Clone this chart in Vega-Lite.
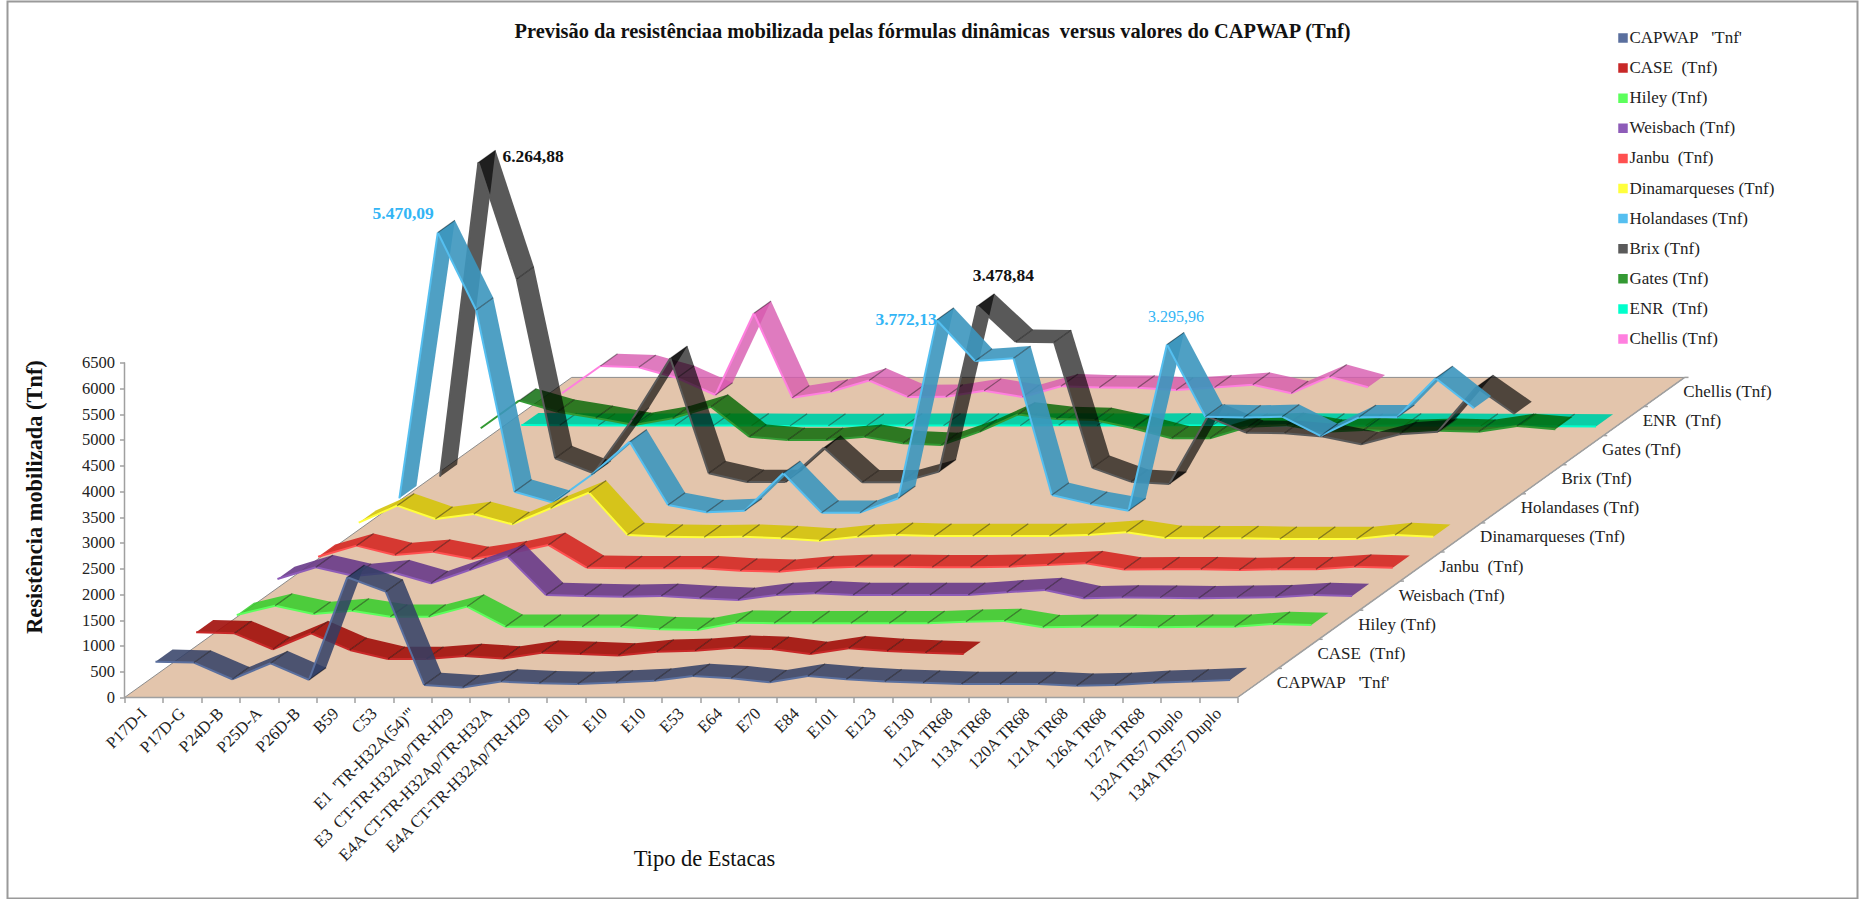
{
"$schema":"https://vega.github.io/schema/vega-lite/v6.json",
"width":1850,"height":897,"autosize":"none",
"padding":{"left":7.5,"top":1.5,"right":1.5,"bottom":0.5},
"background":"white",
"config":{"view":{"stroke":"#9a9a9a","strokeWidth":2},"font":"Liberation Serif"},
"title":{"text":"Previsão da resistênciaa mobilizada pelas fórmulas dinâmicas\u00a0\u00a0versus valores do CAPWAP (Tnf)","font":"Liberation Serif","fontSize":20.4,"fontWeight":"bold","color":"#111","anchor":"middle","offset":-41},
"data":{"values":[
{"serie":"Chellis (Tnf)","n":0,"valor":93},{"serie":"Chellis (Tnf)","n":1,"valor":623},{"serie":"Chellis (Tnf)","n":2,"valor":597},{"serie":"Chellis (Tnf)","n":3,"valor":390},{"serie":"Chellis (Tnf)","n":4,"valor":60},{"serie":"Chellis (Tnf)","n":5,"valor":1645},{"serie":"Chellis (Tnf)","n":6,"valor":8},{"serie":"Chellis (Tnf)","n":7,"valor":124},{"serie":"Chellis (Tnf)","n":8,"valor":340},{"serie":"Chellis (Tnf)","n":9,"valor":22},{"serie":"Chellis (Tnf)","n":10,"valor":27},{"serie":"Chellis (Tnf)","n":11,"valor":140},{"serie":"Chellis (Tnf)","n":12,"valor":22},{"serie":"Chellis (Tnf)","n":13,"valor":228},{"serie":"Chellis (Tnf)","n":14,"valor":205},{"serie":"Chellis (Tnf)","n":15,"valor":200},{"serie":"Chellis (Tnf)","n":16,"valor":157},{"serie":"Chellis (Tnf)","n":17,"valor":205},{"serie":"Chellis (Tnf)","n":18,"valor":260},{"serie":"Chellis (Tnf)","n":19,"valor":93},{"serie":"Chellis (Tnf)","n":20,"valor":415},{"serie":"Chellis (Tnf)","n":21,"valor":209},
{"serie":"ENR  (Tnf)","n":0,"valor":40},{"serie":"ENR  (Tnf)","n":1,"valor":35},{"serie":"ENR  (Tnf)","n":2,"valor":30},{"serie":"ENR  (Tnf)","n":3,"valor":30},{"serie":"ENR  (Tnf)","n":4,"valor":30},{"serie":"ENR  (Tnf)","n":5,"valor":30},{"serie":"ENR  (Tnf)","n":6,"valor":30},{"serie":"ENR  (Tnf)","n":7,"valor":25},{"serie":"ENR  (Tnf)","n":8,"valor":25},{"serie":"ENR  (Tnf)","n":9,"valor":25},{"serie":"ENR  (Tnf)","n":10,"valor":30},{"serie":"ENR  (Tnf)","n":11,"valor":30},{"serie":"ENR  (Tnf)","n":12,"valor":30},{"serie":"ENR  (Tnf)","n":13,"valor":30},{"serie":"ENR  (Tnf)","n":14,"valor":35},{"serie":"ENR  (Tnf)","n":15,"valor":30},{"serie":"ENR  (Tnf)","n":16,"valor":30},{"serie":"ENR  (Tnf)","n":17,"valor":35},{"serie":"ENR  (Tnf)","n":18,"valor":30},{"serie":"ENR  (Tnf)","n":19,"valor":30},{"serie":"ENR  (Tnf)","n":20,"valor":35},{"serie":"ENR  (Tnf)","n":21,"valor":30},{"serie":"ENR  (Tnf)","n":22,"valor":25},{"serie":"ENR  (Tnf)","n":23,"valor":30},{"serie":"ENR  (Tnf)","n":24,"valor":30},{"serie":"ENR  (Tnf)","n":25,"valor":25},{"serie":"ENR  (Tnf)","n":26,"valor":25},{"serie":"ENR  (Tnf)","n":27,"valor":20},{"serie":"ENR  (Tnf)","n":28,"valor":15},
{"serie":"Gates (Tnf)","n":0,"valor":543},{"serie":"Gates (Tnf)","n":1,"valor":1079},{"serie":"Gates (Tnf)","n":2,"valor":865},{"serie":"Gates (Tnf)","n":3,"valor":743},{"serie":"Gates (Tnf)","n":4,"valor":607},{"serie":"Gates (Tnf)","n":5,"valor":737},{"serie":"Gates (Tnf)","n":6,"valor":962},{"serie":"Gates (Tnf)","n":7,"valor":380},{"serie":"Gates (Tnf)","n":8,"valor":316},{"serie":"Gates (Tnf)","n":9,"valor":316},{"serie":"Gates (Tnf)","n":10,"valor":380},{"serie":"Gates (Tnf)","n":11,"valor":252},{"serie":"Gates (Tnf)","n":12,"valor":219},{"serie":"Gates (Tnf)","n":13,"valor":477},{"serie":"Gates (Tnf)","n":14,"valor":810},{"serie":"Gates (Tnf)","n":15,"valor":725},{"serie":"Gates (Tnf)","n":16,"valor":704},{"serie":"Gates (Tnf)","n":17,"valor":543},{"serie":"Gates (Tnf)","n":18,"valor":349},{"serie":"Gates (Tnf)","n":19,"valor":349},{"serie":"Gates (Tnf)","n":20,"valor":574},{"serie":"Gates (Tnf)","n":21,"valor":607},{"serie":"Gates (Tnf)","n":22,"valor":477},{"serie":"Gates (Tnf)","n":23,"valor":510},{"serie":"Gates (Tnf)","n":24,"valor":477},{"serie":"Gates (Tnf)","n":25,"valor":497},{"serie":"Gates (Tnf)","n":26,"valor":477},{"serie":"Gates (Tnf)","n":27,"valor":588},{"serie":"Gates (Tnf)","n":28,"valor":524},
{"serie":"Brix (Tnf)","n":0,"valor":169},{"serie":"Brix (Tnf)","n":1,"valor":6264.88},{"serie":"Brix (Tnf)","n":2,"valor":4004},{"serie":"Brix (Tnf)","n":3,"valor":525},{"serie":"Brix (Tnf)","n":4,"valor":234},{"serie":"Brix (Tnf)","n":5,"valor":1268},{"serie":"Brix (Tnf)","n":6,"valor":2466},{"serie":"Brix (Tnf)","n":7,"valor":234},{"serie":"Brix (Tnf)","n":8,"valor":65},{"serie":"Brix (Tnf)","n":9,"valor":65},{"serie":"Brix (Tnf)","n":10,"valor":731},{"serie":"Brix (Tnf)","n":11,"valor":60},{"serie":"Brix (Tnf)","n":12,"valor":60},{"serie":"Brix (Tnf)","n":13,"valor":266},{"serie":"Brix (Tnf)","n":14,"valor":3478.84},{"serie":"Brix (Tnf)","n":15,"valor":2788},{"serie":"Brix (Tnf)","n":16,"valor":2776},{"serie":"Brix (Tnf)","n":17,"valor":340},{"serie":"Brix (Tnf)","n":18,"valor":72},{"serie":"Brix (Tnf)","n":19,"valor":27},{"serie":"Brix (Tnf)","n":20,"valor":1333},{"serie":"Brix (Tnf)","n":21,"valor":1022},{"serie":"Brix (Tnf)","n":22,"valor":1010},{"serie":"Brix (Tnf)","n":23,"valor":950},{"serie":"Brix (Tnf)","n":24,"valor":797},{"serie":"Brix (Tnf)","n":25,"valor":991},{"serie":"Brix (Tnf)","n":26,"valor":1042},{"serie":"Brix (Tnf)","n":27,"valor":1903},{"serie":"Brix (Tnf)","n":28,"valor":1385},
{"serie":"Holandases (Tnf)","n":0,"valor":314},{"serie":"Holandases (Tnf)","n":1,"valor":5470.09},{"serie":"Holandases (Tnf)","n":2,"valor":3967},{"serie":"Holandases (Tnf)","n":3,"valor":442},{"serie":"Holandases (Tnf)","n":4,"valor":229},{"serie":"Holandases (Tnf)","n":5,"valor":766},{"serie":"Holandases (Tnf)","n":6,"valor":1412},{"serie":"Holandases (Tnf)","n":7,"valor":184},{"serie":"Holandases (Tnf)","n":8,"valor":43},{"serie":"Holandases (Tnf)","n":9,"valor":74},{"serie":"Holandases (Tnf)","n":10,"valor":799},{"serie":"Holandases (Tnf)","n":11,"valor":35},{"serie":"Holandases (Tnf)","n":12,"valor":35},{"serie":"Holandases (Tnf)","n":13,"valor":314},{"serie":"Holandases (Tnf)","n":14,"valor":3772.13},{"serie":"Holandases (Tnf)","n":15,"valor":2978},{"serie":"Holandases (Tnf)","n":16,"valor":3030},{"serie":"Holandases (Tnf)","n":17,"valor":378},{"serie":"Holandases (Tnf)","n":18,"valor":205},{"serie":"Holandases (Tnf)","n":19,"valor":74},{"serie":"Holandases (Tnf)","n":20,"valor":3295.96},{"serie":"Holandases (Tnf)","n":21,"valor":1897},{"serie":"Holandases (Tnf)","n":22,"valor":1880},{"serie":"Holandases (Tnf)","n":23,"valor":1897},{"serie":"Holandases (Tnf)","n":24,"valor":1523},{"serie":"Holandases (Tnf)","n":25,"valor":1885},{"serie":"Holandases (Tnf)","n":26,"valor":1885},{"serie":"Holandases (Tnf)","n":27,"valor":2642},{"serie":"Holandases (Tnf)","n":28,"valor":2060},
{"serie":"Dinamarqueses (Tnf)","n":0,"valor":405},{"serie":"Dinamarqueses (Tnf)","n":1,"valor":735},{"serie":"Dinamarqueses (Tnf)","n":2,"valor":477},{"serie":"Dinamarqueses (Tnf)","n":3,"valor":574},{"serie":"Dinamarqueses (Tnf)","n":4,"valor":374},{"serie":"Dinamarqueses (Tnf)","n":5,"valor":685},{"serie":"Dinamarqueses (Tnf)","n":6,"valor":987},{"serie":"Dinamarqueses (Tnf)","n":7,"valor":167},{"serie":"Dinamarqueses (Tnf)","n":8,"valor":134},{"serie":"Dinamarqueses (Tnf)","n":9,"valor":122},{"serie":"Dinamarqueses (Tnf)","n":10,"valor":134},{"serie":"Dinamarqueses (Tnf)","n":11,"valor":103},{"serie":"Dinamarqueses (Tnf)","n":12,"valor":56},{"serie":"Dinamarqueses (Tnf)","n":13,"valor":134},{"serie":"Dinamarqueses (Tnf)","n":14,"valor":167},{"serie":"Dinamarqueses (Tnf)","n":15,"valor":147},{"serie":"Dinamarqueses (Tnf)","n":16,"valor":147},{"serie":"Dinamarqueses (Tnf)","n":17,"valor":147},{"serie":"Dinamarqueses (Tnf)","n":18,"valor":147},{"serie":"Dinamarqueses (Tnf)","n":19,"valor":167},{"serie":"Dinamarqueses (Tnf)","n":20,"valor":220},{"serie":"Dinamarqueses (Tnf)","n":21,"valor":110},{"serie":"Dinamarqueses (Tnf)","n":22,"valor":103},{"serie":"Dinamarqueses (Tnf)","n":23,"valor":103},{"serie":"Dinamarqueses (Tnf)","n":24,"valor":89},{"serie":"Dinamarqueses (Tnf)","n":25,"valor":89},{"serie":"Dinamarqueses (Tnf)","n":26,"valor":89},{"serie":"Dinamarqueses (Tnf)","n":27,"valor":167},{"serie":"Dinamarqueses (Tnf)","n":28,"valor":134},
{"serie":"Janbu  (Tnf)","n":0,"valor":310},{"serie":"Janbu  (Tnf)","n":1,"valor":524},{"serie":"Janbu  (Tnf)","n":2,"valor":343},{"serie":"Janbu  (Tnf)","n":3,"valor":407},{"serie":"Janbu  (Tnf)","n":4,"valor":266},{"serie":"Janbu  (Tnf)","n":5,"valor":376},{"serie":"Janbu  (Tnf)","n":6,"valor":537},{"serie":"Janbu  (Tnf)","n":7,"valor":97},{"serie":"Janbu  (Tnf)","n":8,"valor":85},{"serie":"Janbu  (Tnf)","n":9,"valor":85},{"serie":"Janbu  (Tnf)","n":10,"valor":85},{"serie":"Janbu  (Tnf)","n":11,"valor":39},{"serie":"Janbu  (Tnf)","n":12,"valor":19},{"serie":"Janbu  (Tnf)","n":13,"valor":85},{"serie":"Janbu  (Tnf)","n":14,"valor":116},{"serie":"Janbu  (Tnf)","n":15,"valor":116},{"serie":"Janbu  (Tnf)","n":16,"valor":104},{"serie":"Janbu  (Tnf)","n":17,"valor":104},{"serie":"Janbu  (Tnf)","n":18,"valor":116},{"serie":"Janbu  (Tnf)","n":19,"valor":149},{"serie":"Janbu  (Tnf)","n":20,"valor":182},{"serie":"Janbu  (Tnf)","n":21,"valor":60},{"serie":"Janbu  (Tnf)","n":22,"valor":66},{"serie":"Janbu  (Tnf)","n":23,"valor":66},{"serie":"Janbu  (Tnf)","n":24,"valor":52},{"serie":"Janbu  (Tnf)","n":25,"valor":66},{"serie":"Janbu  (Tnf)","n":26,"valor":66},{"serie":"Janbu  (Tnf)","n":27,"valor":116},{"serie":"Janbu  (Tnf)","n":28,"valor":97},
{"serie":"Weisbach (Tnf)","n":0,"valor":442},{"serie":"Weisbach (Tnf)","n":1,"valor":669},{"serie":"Weisbach (Tnf)","n":2,"valor":500},{"serie":"Weisbach (Tnf)","n":3,"valor":572},{"serie":"Weisbach (Tnf)","n":4,"valor":359},{"serie":"Weisbach (Tnf)","n":5,"valor":617},{"serie":"Weisbach (Tnf)","n":6,"valor":875},{"serie":"Weisbach (Tnf)","n":7,"valor":132},{"serie":"Weisbach (Tnf)","n":8,"valor":112},{"serie":"Weisbach (Tnf)","n":9,"valor":99},{"serie":"Weisbach (Tnf)","n":10,"valor":112},{"serie":"Weisbach (Tnf)","n":11,"valor":68},{"serie":"Weisbach (Tnf)","n":12,"valor":35},{"serie":"Weisbach (Tnf)","n":13,"valor":132},{"serie":"Weisbach (Tnf)","n":14,"valor":165},{"serie":"Weisbach (Tnf)","n":15,"valor":132},{"serie":"Weisbach (Tnf)","n":16,"valor":132},{"serie":"Weisbach (Tnf)","n":17,"valor":132},{"serie":"Weisbach (Tnf)","n":18,"valor":132},{"serie":"Weisbach (Tnf)","n":19,"valor":184},{"serie":"Weisbach (Tnf)","n":20,"valor":229},{"serie":"Weisbach (Tnf)","n":21,"valor":68},{"serie":"Weisbach (Tnf)","n":22,"valor":85},{"serie":"Weisbach (Tnf)","n":23,"valor":80},{"serie":"Weisbach (Tnf)","n":24,"valor":68},{"serie":"Weisbach (Tnf)","n":25,"valor":80},{"serie":"Weisbach (Tnf)","n":26,"valor":86},{"serie":"Weisbach (Tnf)","n":27,"valor":132},{"serie":"Weisbach (Tnf)","n":28,"valor":112},
{"serie":"Hiley (Tnf)","n":0,"valor":308},{"serie":"Hiley (Tnf)","n":1,"valor":489},{"serie":"Hiley (Tnf)","n":2,"valor":328},{"serie":"Hiley (Tnf)","n":3,"valor":392},{"serie":"Hiley (Tnf)","n":4,"valor":275},{"serie":"Hiley (Tnf)","n":5,"valor":275},{"serie":"Hiley (Tnf)","n":6,"valor":470},{"serie":"Hiley (Tnf)","n":7,"valor":81},{"serie":"Hiley (Tnf)","n":8,"valor":81},{"serie":"Hiley (Tnf)","n":9,"valor":81},{"serie":"Hiley (Tnf)","n":10,"valor":81},{"serie":"Hiley (Tnf)","n":11,"valor":31},{"serie":"Hiley (Tnf)","n":12,"valor":17},{"serie":"Hiley (Tnf)","n":13,"valor":159},{"serie":"Hiley (Tnf)","n":14,"valor":147},{"serie":"Hiley (Tnf)","n":15,"valor":147},{"serie":"Hiley (Tnf)","n":16,"valor":147},{"serie":"Hiley (Tnf)","n":17,"valor":147},{"serie":"Hiley (Tnf)","n":18,"valor":147},{"serie":"Hiley (Tnf)","n":19,"valor":178},{"serie":"Hiley (Tnf)","n":20,"valor":192},{"serie":"Hiley (Tnf)","n":21,"valor":70},{"serie":"Hiley (Tnf)","n":22,"valor":81},{"serie":"Hiley (Tnf)","n":23,"valor":81},{"serie":"Hiley (Tnf)","n":24,"valor":70},{"serie":"Hiley (Tnf)","n":25,"valor":81},{"serie":"Hiley (Tnf)","n":26,"valor":81},{"serie":"Hiley (Tnf)","n":27,"valor":134},{"serie":"Hiley (Tnf)","n":28,"valor":114},
{"serie":"CASE  (Tnf)","n":0,"valor":537},{"serie":"CASE  (Tnf)","n":1,"valor":518},{"serie":"CASE  (Tnf)","n":2,"valor":207},{"serie":"CASE  (Tnf)","n":3,"valor":518},{"serie":"CASE  (Tnf)","n":4,"valor":194},{"serie":"CASE  (Tnf)","n":5,"valor":20},{"serie":"CASE  (Tnf)","n":6,"valor":20},{"serie":"CASE  (Tnf)","n":7,"valor":78},{"serie":"CASE  (Tnf)","n":8,"valor":30},{"serie":"CASE  (Tnf)","n":9,"valor":142},{"serie":"CASE  (Tnf)","n":10,"valor":116},{"serie":"CASE  (Tnf)","n":11,"valor":88},{"serie":"CASE  (Tnf)","n":12,"valor":161},{"serie":"CASE  (Tnf)","n":13,"valor":180},{"serie":"CASE  (Tnf)","n":14,"valor":239},{"serie":"CASE  (Tnf)","n":15,"valor":213},{"serie":"CASE  (Tnf)","n":16,"valor":116},{"serie":"CASE  (Tnf)","n":17,"valor":227},{"serie":"CASE  (Tnf)","n":18,"valor":175},{"serie":"CASE  (Tnf)","n":19,"valor":142},{"serie":"CASE  (Tnf)","n":20,"valor":116},
{"serie":"CAPWAP   'Tnf'","n":0,"valor":532},{"serie":"CAPWAP   'Tnf'","n":1,"valor":513},{"serie":"CAPWAP   'Tnf'","n":2,"valor":190},{"serie":"CAPWAP   'Tnf'","n":3,"valor":500},{"serie":"CAPWAP   'Tnf'","n":4,"valor":177},{"serie":"CAPWAP   'Tnf'","n":5,"valor":2170},{"serie":"CAPWAP   'Tnf'","n":6,"valor":1890},{"serie":"CAPWAP   'Tnf'","n":7,"valor":80},{"serie":"CAPWAP   'Tnf'","n":8,"valor":30},{"serie":"CAPWAP   'Tnf'","n":9,"valor":145},{"serie":"CAPWAP   'Tnf'","n":10,"valor":112},{"serie":"CAPWAP   'Tnf'","n":11,"valor":100},{"serie":"CAPWAP   'Tnf'","n":12,"valor":128},{"serie":"CAPWAP   'Tnf'","n":13,"valor":163},{"serie":"CAPWAP   'Tnf'","n":14,"valor":254},{"serie":"CAPWAP   'Tnf'","n":15,"valor":208},{"serie":"CAPWAP   'Tnf'","n":16,"valor":132},{"serie":"CAPWAP   'Tnf'","n":17,"valor":254},{"serie":"CAPWAP   'Tnf'","n":18,"valor":190},{"serie":"CAPWAP   'Tnf'","n":19,"valor":145},{"serie":"CAPWAP   'Tnf'","n":20,"valor":124},{"serie":"CAPWAP   'Tnf'","n":21,"valor":99},{"serie":"CAPWAP   'Tnf'","n":22,"valor":99},{"serie":"CAPWAP   'Tnf'","n":23,"valor":99},{"serie":"CAPWAP   'Tnf'","n":24,"valor":66},{"serie":"CAPWAP   'Tnf'","n":25,"valor":80},{"serie":"CAPWAP   'Tnf'","n":26,"valor":124},{"serie":"CAPWAP   'Tnf'","n":27,"valor":145},{"serie":"CAPWAP   'Tnf'","n":28,"valor":176}
]},
"transform":[
{"calculate":"indexof(['CAPWAP   \\'Tnf\\'','CASE  (Tnf)','Hiley (Tnf)','Weisbach (Tnf)','Janbu  (Tnf)','Dinamarqueses (Tnf)','Holandases (Tnf)','Brix (Tnf)','Gates (Tnf)','ENR  (Tnf)','Chellis (Tnf)'],datum.serie)","as":"faixa"},
{"window":[{"op":"lead","field":"valor","as":"prox"}],"groupby":["serie"],"sort":[{"field":"n","order":"ascending"}]}
],
"encoding":{
"x":{"field":"px","type":"quantitative","title":"Tipo de Estacas",
"scale":{"domain":[-3.0485,45.154],"nice":false,"zero":false},
"axis":{"orient":"bottom","offset":-201,"domain":false,"grid":false,"values":[0,1,2,3,4,5,6,7,8,9,10,11,12,13,14,15,16,17,18,19,20,21,22,23,24,25,26,27,28,29],
"tickColor":"#a0a0a0","tickWidth":1.5,"tickSize":5,"labelOffset":19.2,"labelAngle":-45,"labelAlign":"right","labelBaseline":"middle","labelPadding":8,"labelOverlap":false,"labelBound":false,"labelFlush":false,"labelLimit":400,"labelFont":"Liberation Serif","labelFontSize":16.8,"labelColor":"#222",
"labelExpr":"['P17D-I','P17D-G','P24D-B','P25D-A','P26D-B','B59','C53','E1\u00a0\u00a0\\'TR-H32A(54)\"\\'','E3\u00a0\u00a0CT-TR-H32Ap/TR-H29','E4A CT-TR-H32Ap/TR-H32A','E4A CT-TR-H32Ap/TR-H29','E01','E10','E10','E53','E64','E70','E84','E101','E123','E130','112A TR68','113A TR68','120A TR68','121A TR68','126A TR68','127A TR68','132A TR57 Duplo','134A TR57 Duplo',''][datum.value]",
"titleFont":"Liberation Serif","titleFontSize":22.5,"titleFontWeight":"normal","titleColor":"#111","titleX":696.5,"titleY":150,"titleAnchor":"middle"}},
"y":{"field":"py","type":"quantitative","title":"Resistência mobilizada (Tnf)",
"scale":{"domain":[-3900,13504],"nice":false,"zero":false},
"axis":{"orient":"left","offset":-117,"domain":false,"grid":false,"format":"d","values":[0,500,1000,1500,2000,2500,3000,3500,4000,4500,5000,5500,6000,6500],
"tickColor":"#a0a0a0","tickWidth":1.5,"tickSize":5,"labelPadding":5,"labelFont":"Liberation Serif","labelFontSize":16.5,"labelColor":"#222",
"titleFont":"Liberation Serif","titleFontSize":22.4,"titleFontWeight":"bold","titleColor":"#111","titleX":-78,"titleY":495,"titleAngle":-90,"titleAnchor":"middle"}}
},
"layer":[
{"data":{"values":[{"n":0,"d":0,"ordem":0},{"n":29,"d":0,"ordem":1},{"n":29,"d":11,"ordem":2},{"n":0,"d":11,"ordem":3},{"n":0,"d":0,"ordem":4}]},
"transform":[{"calculate":"datum.n+datum.d*1.0592","as":"px"},{"calculate":"datum.d*564.6","as":"py"}],
"mark":{"type":"line","fill":"#E3C5AC","stroke":"#8c8c8c","strokeWidth":1},
"encoding":{"order":{"field":"ordem","type":"quantitative"}}},
{"data":{"values":[
{"trecho":"vertical","n":0,"d":0,"altura":0,"ordem":0},{"trecho":"vertical","n":0,"d":0,"altura":6500,"ordem":1},
{"trecho":"frente","n":0,"d":0,"altura":0,"ordem":0},{"trecho":"frente","n":29,"d":0,"altura":0,"ordem":1},
{"trecho":"lado","n":29,"d":0,"altura":0,"ordem":0},{"trecho":"lado","n":29,"d":11,"altura":0,"ordem":1},
{"trecho":"m1","n":29,"d":1,"altura":0,"ordem":0},{"trecho":"m1","n":29.1,"d":1,"altura":0,"ordem":1},
{"trecho":"m2","n":29,"d":2,"altura":0,"ordem":0},{"trecho":"m2","n":29.1,"d":2,"altura":0,"ordem":1},
{"trecho":"m3","n":29,"d":3,"altura":0,"ordem":0},{"trecho":"m3","n":29.1,"d":3,"altura":0,"ordem":1},
{"trecho":"m4","n":29,"d":4,"altura":0,"ordem":0},{"trecho":"m4","n":29.1,"d":4,"altura":0,"ordem":1},
{"trecho":"m5","n":29,"d":5,"altura":0,"ordem":0},{"trecho":"m5","n":29.1,"d":5,"altura":0,"ordem":1},
{"trecho":"m6","n":29,"d":6,"altura":0,"ordem":0},{"trecho":"m6","n":29.1,"d":6,"altura":0,"ordem":1},
{"trecho":"m7","n":29,"d":7,"altura":0,"ordem":0},{"trecho":"m7","n":29.1,"d":7,"altura":0,"ordem":1},
{"trecho":"m8","n":29,"d":8,"altura":0,"ordem":0},{"trecho":"m8","n":29.1,"d":8,"altura":0,"ordem":1},
{"trecho":"m9","n":29,"d":9,"altura":0,"ordem":0},{"trecho":"m9","n":29.1,"d":9,"altura":0,"ordem":1},
{"trecho":"m10","n":29,"d":10,"altura":0,"ordem":0},{"trecho":"m10","n":29.1,"d":10,"altura":0,"ordem":1},
{"trecho":"m11","n":29,"d":11,"altura":0,"ordem":0},{"trecho":"m11","n":29.1,"d":11,"altura":0,"ordem":1}
]},
"transform":[{"calculate":"datum.n+datum.d*1.0592","as":"px"},{"calculate":"datum.altura+datum.d*564.6","as":"py"}],
"mark":{"type":"line","stroke":"#a0a0a0","strokeWidth":1.5},
"encoding":{"detail":{"field":"trecho"},"order":{"field":"ordem","type":"quantitative"}}},
{"transform":[
{"calculate":"[0,1,2,3,4,5,6,7]","as":"parte"},
{"flatten":["parte"]},
{"filter":"isValid(datum.prox) && (datum.parte<6 || datum.n>0)"},
{"calculate":"datum.parte<4?'face':(datum.parte<6?'borda':'travessa')","as":"tipo"},
{"calculate":"(datum.parte==1||datum.parte==2||datum.parte==5)?datum.n+1:datum.n","as":"pn"},
{"calculate":"(datum.parte==1||datum.parte==2||datum.parte==5)?datum.prox:datum.valor","as":"pv"},
{"calculate":"datum.faixa+((datum.parte==2||datum.parte==3||datum.parte==7)?0.71:0.29)","as":"pd"},
{"calculate":"datum.pn+0.5+datum.pd*1.0592","as":"px"},
{"calculate":"datum.pv+datum.pd*564.6","as":"py"},
{"calculate":"datum.serie+'|'+datum.n+'|'+datum.tipo","as":"traco"}
],
"mark":{"type":"line","strokeCap":"butt","strokeJoin":"miter"},
"encoding":{
"detail":{"field":"traco"},
"order":{"field":"parte","type":"quantitative"},
"fill":{"condition":{"test":"datum.tipo!='face'","value":"transparent"},"field":"serie","type":"nominal","legend":null,
"scale":{"domain":["Chellis (Tnf)","ENR  (Tnf)","Gates (Tnf)","Brix (Tnf)","Holandases (Tnf)","Dinamarqueses (Tnf)","Janbu  (Tnf)","Weisbach (Tnf)","Hiley (Tnf)","CASE  (Tnf)","CAPWAP   'Tnf'"],
"range":["rgba(215,90,175,0.8)","rgba(0,205,165,0.95)","rgba(0,100,0,0.8)","rgba(0,0,0,0.65)","rgba(60,150,190,0.9)","rgba(212,195,10,0.9)","rgba(212,40,35,0.9)","rgba(104,58,137,0.9)","rgba(50,205,40,0.85)","rgba(161,14,10,0.9)","rgba(49,62,101,0.85)"]}},
"stroke":{"condition":[{"test":"datum.tipo=='face'","value":"transparent"},{"test":"datum.tipo=='travessa'","value":"rgba(0,0,0,0.4)"}],"field":"serie","type":"nominal",
"scale":{"domain":["CAPWAP   'Tnf'","CASE  (Tnf)","Hiley (Tnf)","Weisbach (Tnf)","Janbu  (Tnf)","Dinamarqueses (Tnf)","Holandases (Tnf)","Brix (Tnf)","Gates (Tnf)","ENR  (Tnf)","Chellis (Tnf)"],
"range":["#5A6F9E","#C82828","#5CFF5C","#8E5CB8","#FF5050","#FFFF3C","#55BFF0","#5A5A5A","#339933","#00FFCC","#FF7FDF"]},
"legend":{"orient":"none","legendX":1607,"legendY":28,"title":null,"symbolType":"square","symbolSize":1,"symbolStrokeWidth":8.5,"clipHeight":17,"rowPadding":12.1,"labelFont":"Liberation Serif","labelFontSize":17,"labelColor":"#222","labelOffset":-2,"labelLimit":300,
"labelExpr":"replace(datum.label,regexp(' ','g'),'\u00a0')"}},
"strokeWidth":{"condition":[{"test":"datum.tipo=='borda'","value":2},{"test":"datum.tipo=='travessa'","value":1.2}],"value":0}
}},
{"data":{"values":[{"serie":"CAPWAP   'Tnf'","faixa":0},{"serie":"CASE  (Tnf)","faixa":1},{"serie":"Hiley (Tnf)","faixa":2},{"serie":"Weisbach (Tnf)","faixa":3},{"serie":"Janbu  (Tnf)","faixa":4},{"serie":"Dinamarqueses (Tnf)","faixa":5},{"serie":"Holandases (Tnf)","faixa":6},{"serie":"Brix (Tnf)","faixa":7},{"serie":"Gates (Tnf)","faixa":8},{"serie":"ENR  (Tnf)","faixa":9},{"serie":"Chellis (Tnf)","faixa":10}]},
"transform":[{"calculate":"29+(datum.faixa+0.5)*1.0592","as":"px"},{"calculate":"(datum.faixa+0.5)*564.6","as":"py"},{"calculate":"replace(datum.serie,regexp(' ','g'),'\u00a0')","as":"nome"}],
"mark":{"type":"text","align":"left","baseline":"middle","dx":19,"font":"Liberation Serif","fontSize":17,"color":"#222"},
"encoding":{"text":{"field":"nome"}}},
{"transform":[{"filter":"datum.valor==6264.88"},{"calculate":"datum.n+0.5+(datum.faixa+0.29)*1.0592","as":"px"},{"calculate":"datum.valor+(datum.faixa+0.29)*564.6","as":"py"},{"calculate":"replace(replace(replace(format(datum.valor,',.2f'),',','#'),'.',','),'#','.')","as":"rotulo"}],
"mark":{"type":"text","align":"left","baseline":"middle","dx":24,"dy":-5,"font":"Liberation Serif","fontSize":17.5,"fontWeight":"bold","color":"#111"},"encoding":{"text":{"field":"rotulo"}}},
{"transform":[{"filter":"datum.valor==3478.84"},{"calculate":"datum.n+0.5+(datum.faixa+0.29)*1.0592","as":"px"},{"calculate":"datum.valor+(datum.faixa+0.29)*564.6","as":"py"},{"calculate":"replace(replace(replace(format(datum.valor,',.2f'),',','#'),'.',','),'#','.')","as":"rotulo"}],
"mark":{"type":"text","align":"center","baseline":"middle","dx":26,"dy":-30,"font":"Liberation Serif","fontSize":17.5,"fontWeight":"bold","color":"#111"},"encoding":{"text":{"field":"rotulo"}}},
{"transform":[{"filter":"datum.valor==5470.09"},{"calculate":"datum.n+0.5+(datum.faixa+0.29)*1.0592","as":"px"},{"calculate":"datum.valor+(datum.faixa+0.29)*564.6","as":"py"},{"calculate":"replace(replace(replace(format(datum.valor,',.2f'),',','#'),'.',','),'#','.')","as":"rotulo"}],
"mark":{"type":"text","align":"right","baseline":"middle","dx":-4,"dy":-19,"font":"Liberation Serif","fontSize":17.5,"fontWeight":"bold","color":"#33B5F5"},"encoding":{"text":{"field":"rotulo"}}},
{"transform":[{"filter":"datum.valor==3772.13"},{"calculate":"datum.n+0.5+(datum.faixa+0.29)*1.0592","as":"px"},{"calculate":"datum.valor+(datum.faixa+0.29)*564.6","as":"py"},{"calculate":"replace(replace(replace(format(datum.valor,',.2f'),',','#'),'.',','),'#','.')","as":"rotulo"}],
"mark":{"type":"text","align":"right","baseline":"middle","dx":0,"dy":0,"font":"Liberation Serif","fontSize":17.5,"fontWeight":"bold","color":"#33B5F5"},"encoding":{"text":{"field":"rotulo"}}},
{"transform":[{"filter":"datum.valor==3295.96"},{"calculate":"datum.n+0.5+(datum.faixa+0.29)*1.0592","as":"px"},{"calculate":"datum.valor+(datum.faixa+0.29)*564.6","as":"py"},{"calculate":"replace(replace(replace(format(datum.valor,',.2f'),',','#'),'.',','),'#','.')","as":"rotulo"}],
"mark":{"type":"text","align":"center","baseline":"middle","dx":9,"dy":-28,"font":"Liberation Serif","fontSize":16,"color":"#33B5F5"},"encoding":{"text":{"field":"rotulo"}}}
]
}
